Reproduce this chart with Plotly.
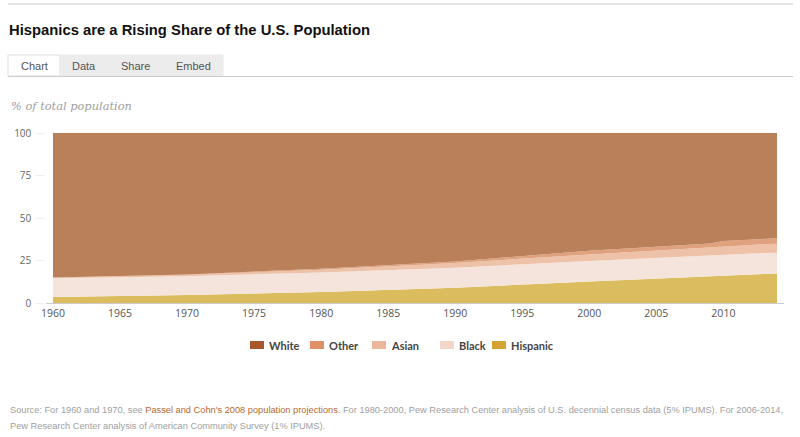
import plotly.graph_objects as go

W, H = 800, 437

years = [1960, 1970, 1980, 1990, 2000, 2006, 2007, 2008, 2009, 2010, 2011, 2012, 2013, 2014]
hispanic = [3.5, 4.7, 6.5, 9.0, 12.6, 14.8, 15.1, 15.4, 15.8, 16.3, 16.6, 16.9, 17.1, 17.3]
black = [11.0, 11.1, 11.5, 11.8, 12.1, 12.2, 12.2, 12.2, 12.2, 12.3, 12.3, 12.3, 12.3, 12.3]
asian = [0.5, 0.8, 1.6, 2.8, 3.8, 4.4, 4.5, 4.5, 4.6, 4.8, 4.9, 5.0, 5.1, 5.2]
other = [0.0, 0.2, 0.6, 0.8, 2.3, 2.2, 2.3, 2.3, 2.4, 3.0, 3.0, 3.1, 3.2, 3.3]
white = [85.0, 83.2, 79.8, 75.6, 69.2, 66.4, 65.9, 65.6, 65.0, 63.6, 63.2, 62.7, 62.3, 61.9]

x_ticks = [1960, 1965, 1970, 1975, 1980, 1985, 1990, 1995, 2000, 2005, 2010]
y_ticks = [0, 25, 50, 75, 100]

series = [
    ("Hispanic", hispanic, "#dbbd5f", "#d6a531"),
    ("Black", black, "#f5e4db", "#f3d6c9"),
    ("Asian", asian, "#eec2a8", "#ecb69b"),
    ("Other", other, "#e0a17f", "#de9067"),
    ("White", white, "#b98059", "#a8572b"),
]
legend_order = ["White", "Other", "Asian", "Black", "Hispanic"]

fig = go.Figure()
for name, vals, fillc, _ in series:
    fig.add_trace(go.Scatter(
        x=years, y=vals, name=name, stackgroup="one", mode="lines",
        line=dict(width=0, color=fillc), fillcolor=fillc, showlegend=False,
        hoverinfo="x+y+name",
    ))


def px(x):
    return x / W


def py(y):
    return 1 - y / H


shapes = []
annotations = []

# top rule
shapes.append(dict(type="line", xref="paper", yref="paper", x0=px(8), x1=px(793), y0=py(4), y1=py(4),
                   line=dict(color="#cccccc", width=1)))
# tabs
tabs = [("Chart", 8, 60, "#ffffff"), ("Data", 60, 108, "#ececec"), ("Share", 108, 163, "#ececec"),
        ("Embed", 163, 223, "#ececec")]
for label, x0, x1, fc in tabs:
    shapes.append(dict(type="rect", xref="paper", yref="paper", x0=px(x0), x1=px(x1), y0=py(76), y1=py(55),
                       fillcolor=fc, line=dict(color="#dddddd" if fc == "#ffffff" else fc, width=1)))
    annotations.append(dict(text=label, xref="paper", yref="paper", x=px((x0 + x1) / 2), y=py(65.5),
                            showarrow=False, xanchor="center", yanchor="middle",
                            font=dict(family="Liberation Sans", size=11, color="#555555")))
shapes.append(dict(type="line", xref="paper", yref="paper", x0=px(8), x1=px(793), y0=py(76.5), y1=py(76.5),
                   line=dict(color="#cccccc", width=1)))

# title
annotations.append(dict(text="<b>Hispanics are a Rising Share of the U.S. Population</b>", xref="paper",
                        yref="paper", x=px(7), y=py(30), showarrow=False, xanchor="left", yanchor="middle",
                        font=dict(family="Liberation Sans, Arial, sans-serif", size=14.8, color="#111111")))
# subtitle
annotations.append(dict(text="<i>% of total population</i>", xref="paper", yref="paper", x=px(9), y=py(106),
                        showarrow=False, xanchor="left", yanchor="middle",
                        font=dict(family="DejaVu Serif", size=11.4, color="#a0a0a0")))
# source
annotations.append(dict(
    text=("Source: For 1960 and 1970, see <span style='color:#b5692f'>Passel and Cohn's 2008 population "
          "projections</span>. For 1980-2000, Pew Research Center analysis of U.S. decennial census data "
          "(5% IPUMS). For 2006-2014,"),
    xref="paper", yref="paper", x=px(8), y=py(410), showarrow=False, xanchor="left", yanchor="middle",
    font=dict(family="Liberation Sans, Arial, sans-serif", size=9.25, color="#a0a0a0")))
annotations.append(dict(
    text="Pew Research Center analysis of American Community Survey (1% IPUMS).",
    xref="paper", yref="paper", x=px(8), y=py(426), showarrow=False, xanchor="left", yanchor="middle",
    font=dict(family="Liberation Sans, Arial, sans-serif", size=9.25, color="#a0a0a0")))

# legend (swatch + label)
leg_colors = {name: legc for name, _, _, legc in series}
leg_x = [250, 310, 372, 440, 492]
for name, lx in zip(legend_order, leg_x):
    shapes.append(dict(type="rect", xref="paper", yref="paper", x0=px(lx), x1=px(lx + 14), y0=py(349),
                       y1=py(341), fillcolor=leg_colors[name], line=dict(width=0)))
    annotations.append(dict(text="<b>" + name + "</b>", xref="paper", yref="paper", x=px(lx + 17), y=py(345),
                            showarrow=False, xanchor="left", yanchor="middle",
                            font=dict(family="Lato", size=11, color="#444444")))

fig.update_layout(
    width=W, height=H, autosize=False,
    margin=dict(l=0, r=0, t=0, b=0, autoexpand=False),
    paper_bgcolor="white", plot_bgcolor="white",
    shapes=shapes, annotations=annotations,
    showlegend=False,
    xaxis=dict(domain=[46.3 / W, 783.7 / W], range=[1959.5, 2014.5], tickvals=x_ticks,
               ticktext=[str(v) for v in x_ticks], showgrid=False, zeroline=False, automargin=False,
               showline=True, linecolor="#cccccc", linewidth=1, ticks="", ticklen=0,
               tickfont=dict(family="Open Sans", size=10.5, color="#555555"), fixedrange=True),
    yaxis=dict(domain=[1 - 303 / H, 1 - 133 / H], range=[0, 100], tickvals=y_ticks, automargin=False,
               showgrid=False, zeroline=False, showline=False, ticks="outside", ticklen=10,
               tickcolor="#f0f0f0", ticklabelstandoff=2,
               tickfont=dict(family="Open Sans", size=10, color="#666666"), fixedrange=True),
)

fig.write_html("out.html", config={"displayModeBar": False},
               post_script="document.body.style.margin='0';document.body.style.overflow='hidden';")
